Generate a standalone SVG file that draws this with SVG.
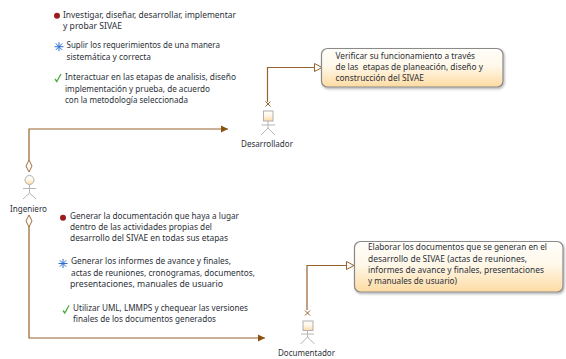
<svg xmlns="http://www.w3.org/2000/svg" width="566" height="359" viewBox="0 0 566 359">
<style>
text{font-family:"Noto Sans","DejaVu Sans",sans-serif;font-size:8.5px;fill:#2b3038}
.c{fill:none;stroke:#96622c;stroke-width:1.2}
.a{fill:none;stroke:#b5b5b5;stroke-width:1}
.box{fill:url(#g);stroke:#8a8a8a;stroke-width:1.2;filter:url(#s)}
.head{fill:url(#g);stroke:#b0b0b0;stroke-width:1}
</style>
<defs>
<linearGradient id="g" x1="0" y1="0" x2="0" y2="1"><stop offset="0" stop-color="#fffefa"/><stop offset=".45" stop-color="#fff8ea"/><stop offset="1" stop-color="#fddba2"/></linearGradient>
<filter id="s" x="-5%" y="-10%" width="110%" height="125%"><feDropShadow dx="1" dy="1.5" stdDeviation="1" flood-color="#000" flood-opacity=".3"/></filter>
<marker id="fill" markerUnits="userSpaceOnUse" markerWidth="8" markerHeight="8" refX="7" refY="4" orient="auto"><path d="M0 .5L7 4L0 7.5z" fill="#8a5212"/></marker>
<marker id="open" markerUnits="userSpaceOnUse" markerWidth="10" markerHeight="10" refX="8.500" refY="5" orient="auto"><path d="M1 1L8.500 5L1 9z" fill="#fff" stroke="#96622c"/></marker>
<path id="star" d="M-4.500 0H4.500M0-4.500V4.500M-3.200-3.200L3.200 3.200M-3.200 3.200L3.200-3.200" stroke="#2f6fd0" stroke-width="1" fill="none"/>
<path id="check" d="M-3 1L-1.200 3.500L3-4" stroke="#4cae3c" stroke-width="1.300" fill="none"/>
<path id="x" d="M-2.500-2.500L2.500 2.500M-2.500 2.500L2.500-2.500" stroke="#96622c" stroke-width="1" fill="none"/>
</defs>
<g id="connectors">
<path class="c" d="M29 160V129H228" marker-end="url(#fill)"/>
<path class="c" d="M29 226V338H265" marker-end="url(#fill)"/>
<path class="c" d="M267.500 102V67.500H322" marker-end="url(#open)"/>
<path class="c" d="M307 310V265.500H354" marker-end="url(#open)"/>
<path d="M29 160L32 166L29 172L26 166z" fill="#fff" stroke="#a0703c"/>
<path d="M29 215L32 221L29 227L26 221z" fill="#fff" stroke="#a0703c"/>
<use href="#x" x="268" y="104"/>
<use href="#x" x="307.500" y="313"/>
</g>
<g id="ingeniero">
<circle class="head" cx="29.500" cy="180" r="4.500"/>
<path class="a" d="M29.500 184.500V193M23 188.500H36M23 199L29.500 193L36 199"/>
<text x="10" y="212" textLength="37" lengthAdjust="spacingAndGlyphs">Ingeniero</text>
</g>
<g id="desarrollador">
<rect class="head" x="263.500" y="111" width="9.500" height="10"/>
<path class="a" d="M268 121V128M261.500 125H275M261 135L268 128L275 135"/>
<text x="241" y="147" textLength="52" lengthAdjust="spacingAndGlyphs">Desarrollador</text>
</g>
<g id="documentador">
<rect class="head" x="303" y="321" width="10" height="9.500"/>
<path class="a" d="M307.500 330.500V337M301 334H314M300.500 344L307.500 337L314.500 344"/>
<text x="278" y="356" textLength="57" lengthAdjust="spacingAndGlyphs">Documentador</text>
</g>
<g id="nota-desarrollador">
<rect class="box" x="321.500" y="48.500" width="181.500" height="38.500" rx="6"/>
<text x="335.500" y="59" textLength="139.500" lengthAdjust="spacingAndGlyphs">Verificar su funcionamiento a través</text>
<text x="335.500" y="70" xml:space="preserve" textLength="147.500" lengthAdjust="spacingAndGlyphs">de las  etapas de planeación, diseño y</text>
<text x="335.500" y="81" textLength="88.500" lengthAdjust="spacingAndGlyphs">construcción del SIVAE</text>
</g>
<g id="nota-documentador">
<rect class="box" x="354.500" y="241.500" width="208.500" height="50.500" rx="6"/>
<text x="368" y="250" textLength="179" lengthAdjust="spacingAndGlyphs">Elaborar los documentos que se generan en el</text>
<text x="368" y="262" textLength="159" lengthAdjust="spacingAndGlyphs">desarrollo de SIVAE (actas de reuniones,</text>
<text x="368" y="273" textLength="176" lengthAdjust="spacingAndGlyphs">informes de avance y finales, presentaciones</text>
<text x="368" y="284" textLength="89" lengthAdjust="spacingAndGlyphs">y manuales de usuario)</text>
</g>
<g id="lista-desarrollador">
<circle cx="57" cy="15.700" r="3" fill="#9b1c1c"/>
<text x="63" y="18" textLength="173" lengthAdjust="spacingAndGlyphs">Investigar, diseñar, desarrollar, implementar</text>
<text x="63" y="29" textLength="59" lengthAdjust="spacingAndGlyphs">y probar SIVAE</text>
<use href="#star" x="59" y="46.700"/>
<text x="66.500" y="48" textLength="153.500" lengthAdjust="spacingAndGlyphs">Suplir los requerimientos de una manera</text>
<text x="66.500" y="60" textLength="84.500" lengthAdjust="spacingAndGlyphs">sistemática y correcta</text>
<use href="#check" x="58" y="78"/>
<text x="65" y="80" textLength="171" lengthAdjust="spacingAndGlyphs">Interactuar en las etapas de analisis, diseño</text>
<text x="65" y="91.500" textLength="145" lengthAdjust="spacingAndGlyphs">implementación y prueba, de acuerdo</text>
<text x="65" y="103" textLength="123" lengthAdjust="spacingAndGlyphs">con la metodología seleccionada</text>
</g>
<g id="lista-documentador">
<circle cx="63" cy="217.700" r="3" fill="#9b1c1c"/>
<text x="70" y="219" textLength="169" lengthAdjust="spacingAndGlyphs">Generar la documentación que haya a lugar</text>
<text x="70" y="230" textLength="142" lengthAdjust="spacingAndGlyphs">dentro de las actividades propias del</text>
<text x="70" y="241" textLength="158" lengthAdjust="spacingAndGlyphs">desarrollo del SIVAE en todas sus etapas</text>
<use href="#star" x="63" y="263.500"/>
<text x="71" y="264" textLength="160" lengthAdjust="spacingAndGlyphs">Generar los informes de avance y finales,</text>
<text x="71" y="275.500" textLength="184" lengthAdjust="spacingAndGlyphs">actas de reuniones, cronogramas, documentos,</text>
<text x="70" y="286.500" textLength="153" lengthAdjust="spacingAndGlyphs">presentaciones, manuales de usuario</text>
<use href="#check" x="66" y="309.500"/>
<text x="73" y="311" textLength="175" lengthAdjust="spacingAndGlyphs">Utilizar UML, LMMPS y chequear las versiones</text>
<text x="73" y="322" textLength="143" lengthAdjust="spacingAndGlyphs">finales de los documentos generados</text>
</g>
</svg>
